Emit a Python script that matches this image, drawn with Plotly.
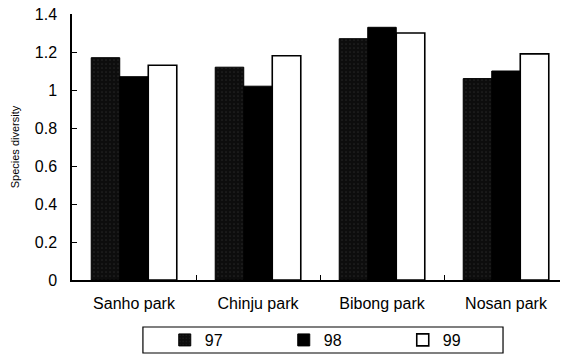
import plotly.graph_objects as go

categories = ["Sanho park", "Chinju park", "Bibong park", "Nosan park"]
series_names = ["97", "98", "99"]
values_97 = [1.17, 1.12, 1.27, 1.06]
values_98 = [1.07, 1.02, 1.33, 1.10]
values_99 = [1.13, 1.18, 1.30, 1.19]
y_ticks = [0, 0.2, 0.4, 0.6, 0.8, 1, 1.2, 1.4]

font = "Liberation Sans, Arial, sans-serif"

fig = go.Figure()
fig.add_bar(name=series_names[0], x=categories, y=values_97,
            marker=dict(color="#0d0d0d", line=dict(color="#000", width=1),
                        pattern=dict(shape=".", fgcolor="#3a3a3a", bgcolor="#0d0d0d",
                                     size=4, solidity=0.15)))
fig.add_bar(name=series_names[1], x=categories, y=values_98,
            marker=dict(color="#000000", line=dict(color="#000", width=1)))
fig.add_bar(name=series_names[2], x=categories, y=values_99,
            marker=dict(color="#ffffff", line=dict(color="#000", width=1.6)))

# legend frame
fig.add_shape(type="rect", xref="paper", yref="paper",
              x0=0.143, x1=0.869, y0=-0.1767, y1=-0.2744,
              line=dict(color="#000", width=1.2), fillcolor="white", layer="below")

fig.update_layout(
    width=560, height=352,
    margin=dict(l=64, r=0, t=6, b=80, autoexpand=False),
    paper_bgcolor="white", plot_bgcolor="white",
    barmode="group", bargap=0.31, bargroupgap=0,
    font=dict(family=font, color="#000", size=16),
    showlegend=True,
    legend=dict(orientation="h", x=0.187, y=-0.2256, xanchor="left", yanchor="middle",
                borderwidth=0, bgcolor="rgba(0,0,0,0)",
                entrywidth=74, entrywidthmode="pixels",
                itemwidth=30, font=dict(size=16, family=font),
                traceorder="normal"),
    xaxis=dict(showline=True, linecolor="#000", linewidth=1.5, ticks="inside",
               ticklen=5, tickcolor="#000", tickson="boundaries",
               showgrid=False, tickfont=dict(size=16), ticklabelstandoff=8,
               range=[-0.5, 3.5]),
    yaxis=dict(range=[0, 1.4], tickvals=y_ticks, showline=True, linecolor="#000",
               linewidth=1.5, ticks="inside", ticklen=5, tickcolor="#000",
               showgrid=False, zeroline=False, tickfont=dict(size=16),
               ticklabelstandoff=10, ticklabeloverflow="allow",
               title=dict(text="Species diversity", font=dict(size=11), standoff=13)),
)

fig.write_html("out.html")
